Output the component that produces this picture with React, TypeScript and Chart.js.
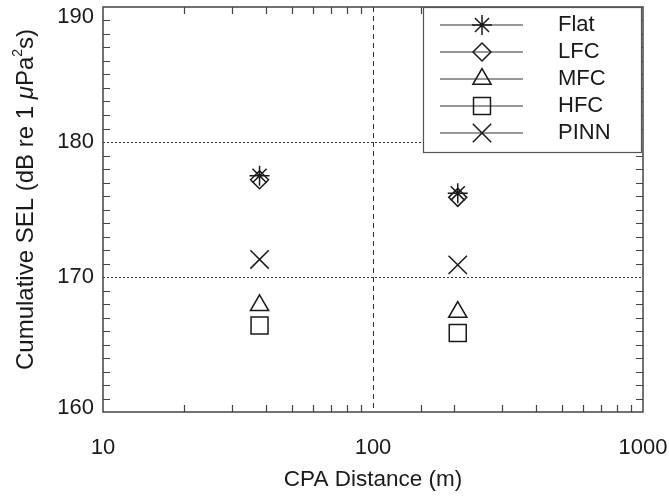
import React, { useEffect, useRef } from 'react';
import { Chart, registerables } from 'chart.js';
import { drawPoint } from 'chart.js/helpers';

Chart.register(...registerables);

// ---- data ----
const distances = [38, 206];
const flatSEL = [177.5, 176.2];
const lfcSEL = [177.2, 175.9];
const mfcSEL = [167.9, 167.4];
const hfcSEL = [166.4, 165.85];
const pinnSEL = [171.3, 170.9];
const seriesNames = ['Flat', 'LFC', 'MFC', 'HFC', 'PINN'];
const xTickValues = [10, 100, 1000];
const yTickValues = [160, 170, 180, 190];
const xGridValues = [100];
const yGridValues = [170, 180];
const xTitle = 'CPA Distance (m)';
const yTitleParts = [
  { text: 'Cumulative SEL (dB re 1 ', kind: 'normal' },
  { text: 'μ', kind: 'italic' },
  { text: 'Pa', kind: 'normal' },
  { text: '2', kind: 'sup' },
  { text: 's)', kind: 'normal' },
];

const FONT = "'Liberation Sans', Arial, Helvetica, sans-serif";
const INK = '#1a1a1a';

const seriesValues = [flatSEL, lfcSEL, mfcSEL, hfcSEL, pinnSEL];
const seriesStyles: any[] = [
  { pointStyle: 'star', radius: 10 },
  { pointStyle: 'rectRot', radius: 9 },
  { pointStyle: 'triangle', radius: 10.5 },
  { pointStyle: 'rect', radius: 12 },
  { pointStyle: 'crossRot', radius: 13 },
];

const framePlugin = {
  id: 'idlFrame',
  beforeDatasetsDraw(chart: any) {
    const { ctx, chartArea, scales } = chart;
    const { left, right, top, bottom } = chartArea;
    const x = scales.x;
    const y = scales.y;
    ctx.save();
    // grid lines
    ctx.strokeStyle = '#333';
    ctx.lineWidth = 1;
    ctx.setLineDash([2, 2]);
    yGridValues.forEach((v) => {
      const py = Math.round(y.getPixelForValue(v)) + 0.5;
      ctx.beginPath();
      ctx.moveTo(left, py);
      ctx.lineTo(right, py);
      ctx.stroke();
    });
    ctx.setLineDash([5, 4]);
    xGridValues.forEach((v) => {
      const px = Math.round(x.getPixelForValue(v)) + 0.5;
      ctx.beginPath();
      ctx.moveTo(px, top);
      ctx.lineTo(px, bottom);
      ctx.stroke();
    });
    ctx.setLineDash([]);
    // minor ticks (inward)
    const tl = 7;
    ctx.strokeStyle = '#444';
    ctx.lineWidth = 1.2;
    y.ticks.forEach((t: any) => {
      if (t.value % 10 === 0) return;
      const py = Math.round(y.getPixelForValue(t.value)) + 0.5;
      ctx.beginPath();
      ctx.moveTo(left, py);
      ctx.lineTo(left + tl, py);
      ctx.moveTo(right, py);
      ctx.lineTo(right - tl, py);
      ctx.stroke();
    });
    x.ticks.forEach((t: any) => {
      if (xTickValues.includes(t.value)) return;
      const px = Math.round(x.getPixelForValue(t.value)) + 0.5;
      ctx.beginPath();
      ctx.moveTo(px, bottom);
      ctx.lineTo(px, bottom - tl);
      ctx.moveTo(px, top);
      ctx.lineTo(px, top + tl);
      ctx.stroke();
    });
    // frame
    ctx.strokeStyle = '#444';
    ctx.lineWidth = 1.5;
    ctx.strokeRect(left, top, right - left, bottom - top);
    // y tick labels
    ctx.fillStyle = INK;
    ctx.font = `22px ${FONT}`;
    ctx.textAlign = 'right';
    ctx.textBaseline = 'middle';
    yTickValues.forEach((v) => {
      let py = y.getPixelForValue(v);
      py = Math.min(Math.max(py, top + 10), bottom - 4);
      ctx.fillText(String(v), left - 9, py);
    });
    // y title (rotated, italic mu, superscript 2)
    const size = 24;
    const fontFor = (kind: string) =>
      kind === 'italic' ? `italic ${size}px ${FONT}` : kind === 'sup' ? `${Math.round(size * 0.6)}px ${FONT}` : `${size}px ${FONT}`;
    let total = 0;
    const widths = yTitleParts.map((p) => {
      ctx.font = fontFor(p.kind);
      const w = ctx.measureText(p.text).width;
      total += w;
      return w;
    });
    const cy = (top + bottom) / 2 - 10;
    ctx.translate(33, cy);
    ctx.rotate(-Math.PI / 2);
    ctx.textAlign = 'left';
    ctx.textBaseline = 'alphabetic';
    let u = -total / 2;
    yTitleParts.forEach((p, i) => {
      ctx.font = fontFor(p.kind);
      ctx.fillText(p.text, u, p.kind === 'sup' ? -size * 0.45 : 0);
      u += widths[i];
    });
    ctx.restore();
  },
  afterDraw(chart: any) {
    const { ctx, chartArea } = chart;
    const { right, top } = chartArea;
    const bx0 = right - 220;
    const bx1 = right - 2;
    const by0 = top;
    const by1 = top + 145;
    ctx.save();
    ctx.fillStyle = '#fff';
    ctx.fillRect(bx0, by0, bx1 - bx0, by1 - by0);
    ctx.strokeStyle = '#555';
    ctx.lineWidth = 1.2;
    ctx.strokeRect(bx0 + 0.5, by0 + 0.5, bx1 - bx0, by1 - by0);
    chart.data.datasets.forEach((ds: any, i: number) => {
      const ry = by0 + 18 + 27 * i;
      ctx.strokeStyle = '#333';
      ctx.lineWidth = 1.2;
      ctx.beginPath();
      ctx.moveTo(bx0 + 17, ry);
      ctx.lineTo(bx0 + 100, ry);
      ctx.stroke();
      ctx.strokeStyle = INK;
      ctx.fillStyle = 'rgba(0,0,0,0)';
      ctx.lineWidth = 1.5;
      drawPoint(ctx, { pointStyle: ds.pointStyle, radius: ds.pointRadius, rotation: 0, borderWidth: 1.5 } as any, bx0 + 59, ry);
      ctx.fillStyle = INK;
      ctx.font = `22px ${FONT}`;
      ctx.textAlign = 'left';
      ctx.textBaseline = 'middle';
      ctx.fillText(ds.label, bx0 + 135, ry);
    });
    ctx.restore();
  },
};

export default function App() {
  const canvasRef = useRef<HTMLCanvasElement | null>(null);

  useEffect(() => {
    const canvas = canvasRef.current;
    if (!canvas) return;
    const datasets = seriesNames.map((name, i) => ({
      label: name,
      data: distances.map((d, j) => ({ x: d, y: seriesValues[i][j] })),
      pointStyle: seriesStyles[i].pointStyle,
      pointRadius: seriesStyles[i].radius,
      pointBorderWidth: 1.5,
      pointBorderColor: INK,
      pointBackgroundColor: 'rgba(0,0,0,0)',
      showLine: false,
    }));
    const chart = new Chart(canvas, {
      type: 'scatter',
      data: { datasets },
      plugins: [framePlugin],
      options: {
        animation: false,
        responsive: false,
        events: [],
        layout: { autoPadding: false, padding: { top: 7, right: 26, left: 0, bottom: 0 } },
        plugins: { legend: { display: false }, tooltip: { enabled: false } },
        scales: {
          x: {
            type: 'logarithmic',
            position: 'bottom',
            min: 10,
            max: 1000,
            grid: { display: false, drawTicks: false },
            border: { display: false },
            ticks: {
              autoSkip: false,
              maxRotation: 0,
              padding: 23,
              color: INK,
              font: { family: FONT, size: 22 },
              callback: (v: any) => (xTickValues.includes(Number(v)) ? String(v) : ''),
            },
            title: {
              display: true,
              text: xTitle,
              color: INK,
              font: { family: FONT, size: 22.5 },
              padding: { top: 0, bottom: 3 },
            },
            afterFit: (s: any) => {
              s.height = 84;
              s.paddingLeft = 0;
              s.paddingRight = 0;
              s.paddingTop = 0;
              s.paddingBottom = 0;
            },
          },
          y: {
            type: 'linear',
            min: 160,
            max: 190,
            grid: { display: false, drawTicks: false },
            border: { display: false },
            ticks: { stepSize: 1, display: false },
            title: { display: false },
            afterFit: (s: any) => {
              s.width = 103;
              s.paddingLeft = 0;
              s.paddingRight = 0;
              s.paddingTop = 0;
              s.paddingBottom = 0;
            },
          },
        },
      },
    });
    return () => chart.destroy();
  }, []);

  return (
    <div style={{ position: 'fixed', left: 0, top: 0, width: 669, height: 496, background: '#fff' }}>
      <canvas ref={canvasRef} width={669} height={496} style={{ display: 'block' }} />
    </div>
  );
}
